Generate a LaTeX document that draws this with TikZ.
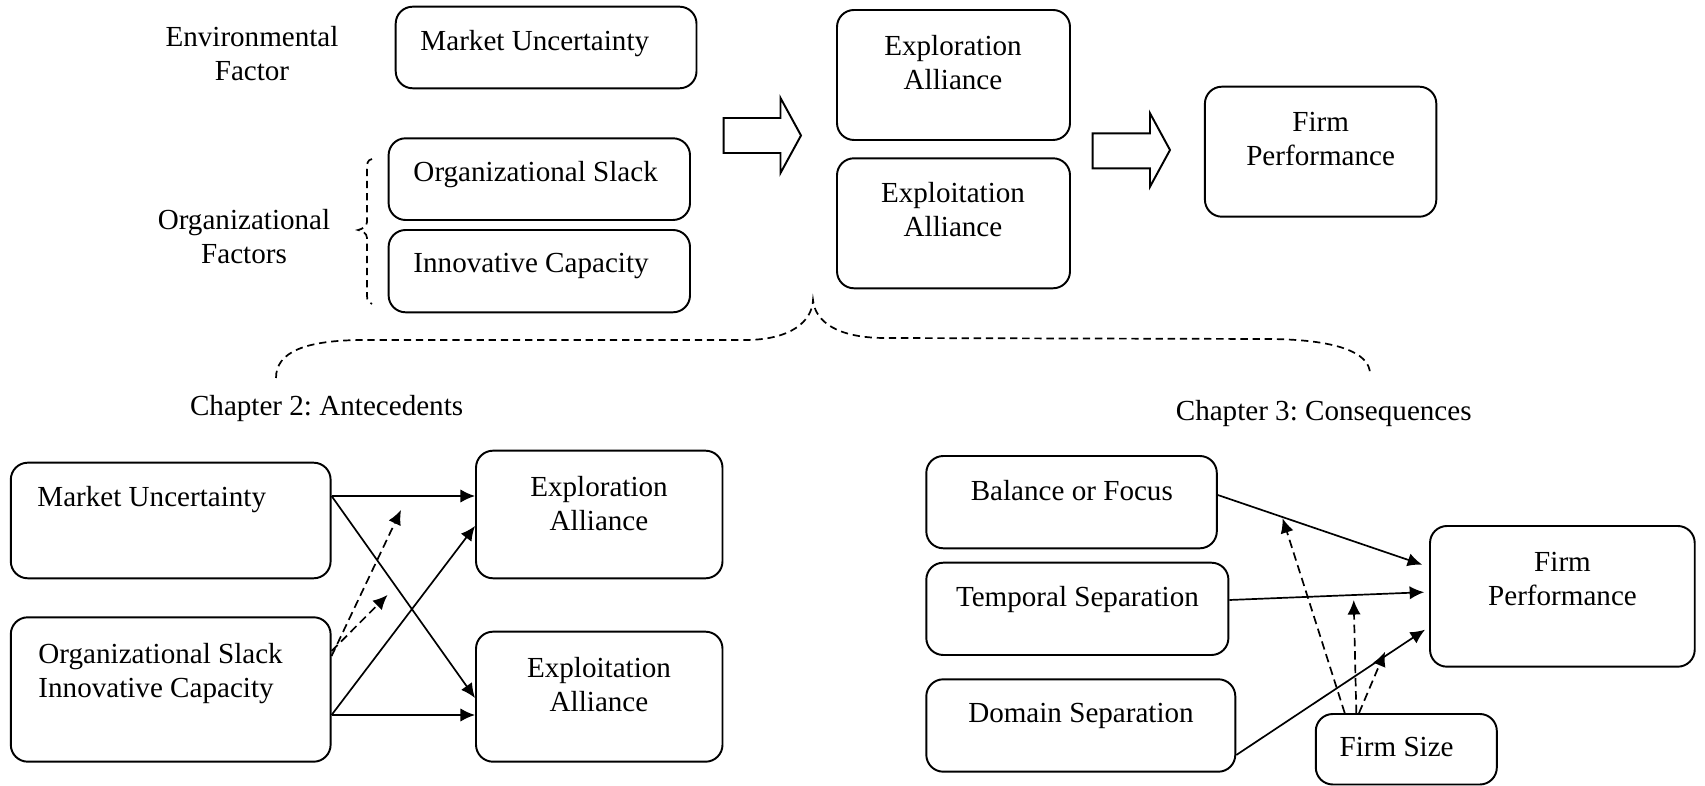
\documentclass[tikz,border=0pt]{standalone}
\usepackage{fontspec}
\setmainfont{Liberation Serif}
\usetikzlibrary{arrows.meta,fit,calc}
\frenchspacing
\begin{document}
\begin{tikzpicture}[x=0.4124pt,y=-0.4124pt,
  box/.style={draw, line width=0.8pt, rounded corners=7pt, inner sep=0pt},
  txt/.style={font=\fontsize{12}{14}\selectfont\frenchspacing, inner sep=0pt, align=center, text depth=0pt},
  arr/.style={line width=0.7pt, -{Latex[length=6pt,width=5.5pt]}},
  darr/.style={arr, dash pattern=on 3.5pt off 2pt},
  bracestyle/.style={line width=0.7pt, dash pattern=on 3pt off 2pt},
  blockarrow/.style={draw, line width=0.8pt, fill=white}
]
\useasboundingbox (0,0) rectangle (1705,786);

% ---------- top part ----------
\node[txt] (envf) at (252,53.3) {Environmental\\Factor};
\node[txt] (orgf) at (244,236.5) {Organizational\\Factors};

\node[box, fit={(395.7,6.7) (696.5,88.3)}] (mu1) {};
\node[txt, anchor=west] (mu1t) at (420,40) {Market Uncertainty};
\node[box, fit={(388.6,138.3) (690,220)}] (os1) {};
\node[txt, anchor=west] (os1t) at (413,171.7) {Organizational Slack};
\node[box, fit={(388.6,230) (690,312.3)}] (ic1) {};
\node[txt, anchor=west] (ic1t) at (413,263) {Innovative Capacity};

\draw[bracestyle] (372,159) .. controls (367,160) and (367,164) .. (367,170) -- (367,222)
  .. controls (367,227) and (362,229) .. (358,230) .. controls (362,231) and (367,233) .. (367,238)
  -- (367,296) .. controls (367,301) and (369,303) .. (372,304);

\draw[blockarrow] (723.6,118) -- (780.5,118) -- (780.5,98) -- (801,135.5) -- (780.5,173) -- (780.5,153) -- (723.6,153) -- cycle;

\node[box, fit={(837,10) (1070,140)}] (exr1) {};
\node[txt] (exr1t) at (953,62) {Exploration\\Alliance};
\node[box, fit={(837,158.3) (1070,288.3)}] (exi1) {};
\node[txt] (exi1t) at (953,209.8) {Exploitation\\Alliance};

\draw[blockarrow] (1092.6,133.3) -- (1150,133.3) -- (1150,113.3) -- (1170,150) -- (1150,186.7) -- (1150,168.3) -- (1092.6,168.3) -- cycle;

\node[box, fit={(1204.9,86.7) (1436.3,216.7)}] (fp1) {};
\node[txt] (fp1t) at (1320.6,139) {Firm\\Performance};

% big dashed brace
\draw[bracestyle] (276,378) .. controls (276,352) and (305,340) .. (365,340) -- (745,340)
  .. controls (790,340) and (812,322) .. (813,300) .. controls (815,322) and (838,338) .. (885,338)
  -- (1265,339) .. controls (1335,339) and (1370,352) .. (1370,374);

\node[txt] (ch2) at (326.6,405) {Chapter 2: Antecedents};
\node[txt] (ch3) at (1323.7,410) {Chapter 3: Consequences};

% ---------- bottom left ----------
\node[box, fit={(10.8,462.7) (330.6,578.3)}] (mu2) {};
\node[txt, anchor=west] (mu2t) at (36.9,496.7) {Market Uncertainty};
\node[box, fit={(10.8,617.3) (330.6,761.7)}] (os2) {};
\node[txt, anchor=west, align=left] (os2t) at (38,670.8) {Organizational Slack\\Innovative Capacity};
\node[box, fit={(476,450.7) (722.5,578.3)}] (exr2) {};
\node[txt] (exr2t) at (599,503.3) {Exploration\\Alliance};
\node[box, fit={(476,631.7) (722.5,761.7)}] (exi2) {};
\node[txt] (exi2t) at (599,684.2) {Exploitation\\Alliance};

\draw[arr] (mu2.east |- 0,496) -- (exr2.west |- 0,496);
\draw[arr] (mu2.east |- 0,496) -- (exi2.west |- 0,698);
\draw[arr] (os2.east |- 0,715) -- (exr2.west |- 0,526);
\draw[arr] (os2.east |- 0,715) -- (exi2.west |- 0,715);
\coordinate (m1) at (401,510);
\coordinate (m2) at (387.5,595);
\draw[darr] (os2.east |- 0,656) -- (m1);
\draw[darr] (os2.east |- 0,651) -- (m2);

% ---------- bottom right ----------
\node[box, fit={(926.3,456) (1216.8,548.3)}] (bal) {};
\node[txt] (balt) at (1071.8,490) {Balance or Focus};
\node[box, fit={(926.3,562.7) (1228.4,655)}] (tmp) {};
\node[txt] (tmpt) at (1077.4,596.7) {Temporal Separation};
\node[box, fit={(926.3,679.3) (1235.3,771.7)}] (dom) {};
\node[txt] (domt) at (1081,713.3) {Domain Separation};
\node[box, fit={(1430,526) (1694.7,666.7)}] (fp2) {};
\node[txt] (fp2t) at (1562.5,579.2) {Firm\\Performance};
\node[box, fit={(1315.8,714) (1496.8,784.5)}] (fs) {};
\node[txt] (fst) at (1396.6,746.7) {Firm Size};

\draw[arr, shorten >=3pt] (bal.east |- 0,495) -- (fp2.west |- 0,567);
\draw[arr, shorten >=2pt] (tmp.east |- 0,600) -- (fp2.west |- 0,592);
\draw[arr, shorten >=2pt] (dom.east |- 0,755) -- (fp2.west |- 0,627);
\coordinate (n1) at (1282.6,518.3);
\coordinate (n2) at (1353.7,600);
\coordinate (n3) at (1385,651.7);
\draw[darr] (fs.north -| 1344.7,0) -- (n1);
\draw[darr] (fs.north -| 1356.3,0) -- (n2);
\draw[darr] (fs.north -| 1359,0) -- (n3);
\end{tikzpicture}
\end{document}
